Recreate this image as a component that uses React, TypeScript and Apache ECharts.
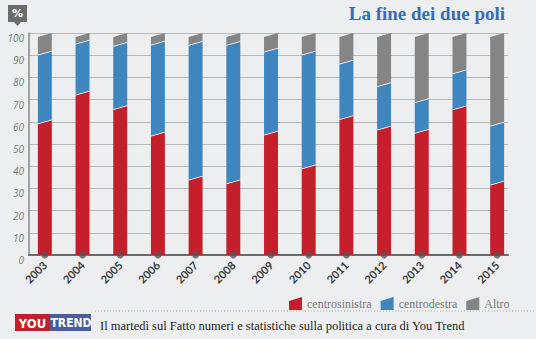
import React, { useEffect, useRef } from "react";
import * as echarts from "echarts";

const years = ["2003", "2004", "2005", "2006", "2007", "2008", "2009", "2010", "2011", "2012", "2013", "2014", "2015"];
const centrosinistra = [61, 74, 67.5, 55.5, 35.7, 34, 56, 40.8, 63, 58.2, 56.8, 67.3, 33.5];
const centrodestra = [31, 23, 28.5, 41, 60.7, 62.4, 37.4, 51.2, 25, 19.6, 13.8, 16.3, 26.5];
const altro = [8, 3, 4, 3.5, 3.6, 3.6, 6.6, 8, 12, 22.2, 29.4, 16.4, 40];
const seriesNames = ["centrosinistra", "centrodestra", "Altro"];
const yTicks = [0, 10, 20, 30, 40, 50, 60, 70, 80, 90, 100];

const COLORS = ["#c41f2a", "#3f86bf", "#858585"];
const SLANT = 4;

export default function App() {
  const ref = useRef<HTMLDivElement>(null);

  useEffect(() => {
    if (!ref.current) return;
    const chart = echarts.init(ref.current, null, { renderer: "svg" });

    const values = [centrosinistra, centrodestra, altro];
    const segs = values.map((arr, s) =>
      arr.map((v, i) => {
        let base = 0;
        for (let k = 0; k < s; k++) base += values[k][i];
        return [i, base, base + v];
      })
    );

    const renderItem = (params: any, api: any) => {
      const i = api.value(0);
      const lo = api.value(1);
      const hi = api.value(2);
      const pTop = api.coord([i, hi]);
      const pBot = api.coord([i, lo]);
      const w = api.size([1, 0])[0] * 0.37;
      const xl = pTop[0] - w / 2;
      const xr = pTop[0] + w / 2;
      const botL = lo <= 0.001 ? pBot[1] : pBot[1] + SLANT;
      const children: any[] = [
        {
          type: "polygon",
          shape: { points: [[xl, pTop[1] + SLANT], [xr, pTop[1]], [xr, pBot[1]], [xl, botL]] },
          style: { fill: api.visual("color") },
        },
      ];
      if (hi < 99.5) {
        children.push({
          type: "line",
          shape: { x1: xl, y1: pTop[1] + SLANT, x2: xr, y2: pTop[1] },
          style: { stroke: "#ffffff", lineWidth: 1.6 },
        });
      }
      return { type: "group", children };
    };

    const legendIcon = "path://M0,4L13,0L13,13L0,13Z";

    chart.setOption({
      animation: false,
      backgroundColor: "#eceeef",
      grid: [
        { left: 26, right: 20, top: 33, bottom: 84 },
        { left: 29, right: 28, top: 33, bottom: 84 },
      ],
      xAxis: [
        {
          type: "category",
          gridIndex: 0,
          data: years,
          axisLine: { show: false },
          axisTick: { show: false },
          axisLabel: {
            rotate: 45,
            margin: 8,
            color: "#3a3a3a",
            fontFamily: "Lato",
            fontWeight: "bold",
            fontSize: 11,
            interval: 0,
          },
        },
        {
          type: "value",
          gridIndex: 1,
          min: 0,
          max: 1,
          axisLine: { show: true, lineStyle: { color: "#6a6a6a", width: 2 } },
          axisTick: { show: false },
          axisLabel: { show: false },
          splitLine: { show: false },
        },
      ],
      yAxis: [
        {
          type: "value",
          gridIndex: 0,
          min: 0,
          max: 100,
          show: false,
        },
        {
          type: "value",
          gridIndex: 1,
          min: 0,
          max: 100,
          interval: 10,
          axisLine: { show: true, lineStyle: { color: "#8a8a8a", width: 1.5 } },
          axisTick: { show: false },
          splitLine: { show: true, lineStyle: { color: "#b9b9b9", width: 1 } },
          axisLabel: {
            margin: 5,
            color: "#7a7a7a",
            fontStyle: "italic",
            fontFamily: "Open Sans",
            fontSize: 10,
            verticalAlign: "top",
            formatter: (v: number) => (yTicks.indexOf(v) >= 0 ? String(v) : ""),
          },
        },
      ],
      legend: {
        left: 284,
        top: 292,
        itemWidth: 13,
        itemHeight: 13,
        itemGap: 9,
        textStyle: { fontFamily: "Liberation Serif", fontSize: 12, color: "#7a7a7a" },
        data: seriesNames.map((n) => ({ name: n, icon: legendIcon })),
      },
      series: [
        ...seriesNames.map((name, s) => ({
          name,
          type: "custom",
          xAxisIndex: 0,
          yAxisIndex: 0,
          itemStyle: { color: COLORS[s] },
          encode: { x: 0, y: [1, 2] },
          renderItem,
          data: segs[s],
          z: 3,
        })),
        {
          type: "scatter",
          xAxisIndex: 0,
          yAxisIndex: 0,
          symbol: "circle",
          symbolSize: 7,
          clip: false,
          itemStyle: { color: "#555" },
          data: years.map((_, i) => [i, 0]),
          z: 10,
          silent: true,
        },
      ],
      graphic: [
        {
          type: "group",
          left: 8,
          top: 5,
          children: [
            { type: "rect", shape: { x: 0, y: 0, width: 19, height: 17 }, style: { fill: "#6b6b6b" } },
            { type: "polygon", shape: { points: [[6, 17], [13, 17], [9.5, 21]] }, style: { fill: "#6b6b6b" } },
            {
              type: "text",
              x: 9.5,
              y: 8.5,
              style: {
                text: "%",
                fill: "#ffffff",
                font: "bold 11px 'DejaVu Sans'",
                align: "center",
                verticalAlign: "middle",
              },
            },
          ],
        },
        {
          type: "text",
          right: 31,
          top: 4,
          style: {
            text: "La fine dei due poli",
            fill: "#3a6cb4",
            font: "bold 19px 'Liberation Serif'",
          },
        },
        {
          type: "line",
          shape: { x1: 95, y1: 311, x2: 536, y2: 311 },
          style: { stroke: "#aaaaaa", lineWidth: 1, lineDash: [1, 2] },
        },
        { type: "rect", shape: { x: 15, y: 314, width: 35, height: 17 }, style: { fill: "#c41f2a" } },
        { type: "rect", shape: { x: 50, y: 314, width: 41, height: 17 }, style: { fill: "#4a5e9e" } },
        {
          type: "text",
          x: 32.5,
          y: 323,
          style: {
            text: "YOU",
            fill: "#ffffff",
            font: "bold 13px 'DejaVu Sans Condensed'",
            align: "center",
            verticalAlign: "middle",
          },
        },
        {
          type: "text",
          x: 71,
          y: 323,
          style: {
            text: "TREND",
            fill: "#ffffff",
            font: "bold 12px 'DejaVu Sans Condensed'",
            align: "center",
            verticalAlign: "middle",
          },
        },
        {
          type: "text",
          x: 100,
          y: 326,
          style: {
            text: "Il martedì sul Fatto numeri e statistiche sulla politica a cura di You Trend",
            fill: "#1e1e1e",
            font: "12.5px 'Liberation Serif'",
            verticalAlign: "middle",
          },
        },
      ],
    });

    return () => chart.dispose();
  }, []);

  return (
    <div
      ref={ref}
      style={{ position: "fixed", left: 0, top: 0, width: 536, height: 339 }}
    />
  );
}
